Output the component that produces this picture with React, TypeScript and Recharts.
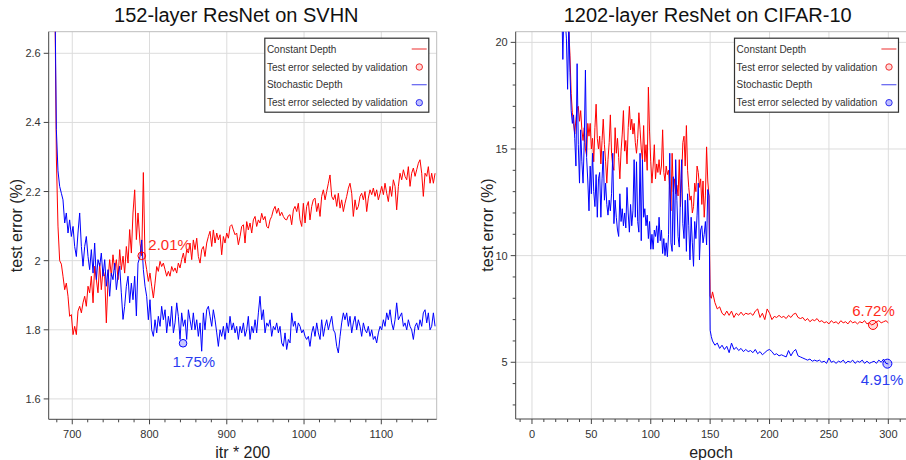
import React from 'react';
import { LineChart, Line, XAxis, YAxis, CartesianGrid, ReferenceDot, ReferenceLine } from 'recharts';

const FONT = '"Liberation Sans", Arial, Helvetica, sans-serif';

// ---------- 152-layer ResNet on SVHN ----------
const svhnItr = [
  677.0,
  679.4, 681.5, 683.7, 685.9, 688.0, 690.2, 692.3, 694.5, 696.6, 698.8,
  701.0, 703.1, 705.3, 707.4, 709.6, 711.8, 713.9, 716.1, 718.2, 720.4,
  722.5, 724.7, 726.9, 729.0, 731.2, 733.3, 735.5, 737.6, 739.8, 742.0,
  744.1, 746.3, 748.4, 750.6, 752.7, 754.9, 757.1, 759.2, 761.4, 763.5,
  765.7, 767.8, 770.0, 772.2, 774.3, 776.5, 778.6, 780.8, 783.0, 785.1,
  787.7, 789.9, 792.0, 794.2, 796.3, 798.5, 800.6, 802.8, 805.0, 807.1,
  809.3, 811.4, 813.6, 815.7, 817.9, 820.1, 822.2, 824.4, 826.5, 828.7,
  830.9, 833.0, 835.2, 837.3, 839.5, 841.6, 843.8, 846.0, 848.1, 850.3,
  852.4, 854.6, 856.7, 858.9, 861.1, 863.2, 865.4, 867.5, 869.7, 871.8,
  874.0, 876.2, 878.3, 880.5, 882.6, 884.8, 887.0, 889.1, 891.3, 893.4,
  895.6, 897.7, 899.9, 902.1, 904.2, 906.4, 908.5, 910.7, 912.8, 915.0,
  917.2, 919.3, 921.5, 923.6, 925.8, 927.9, 930.1, 932.3, 934.4, 936.6,
  938.7, 940.9, 943.0, 945.2, 947.4, 949.5, 951.7, 953.8, 956.0, 958.1,
  960.3, 962.5, 964.6, 966.8, 968.9, 971.1, 973.2, 975.4, 977.5, 979.7,
  981.9,
  984.0, 986.2, 988.3, 990.5, 992.6, 994.8, 997.0, 999.1, 1001.3, 1003.4,
  1005.6, 1007.7, 1009.9, 1012.0, 1014.2, 1016.4, 1018.5, 1020.7, 1022.8, 1025.0,
  1027.2, 1029.3, 1031.5, 1033.6, 1035.8, 1038.0, 1040.1, 1042.3, 1044.4, 1046.6,
  1048.7, 1050.9, 1053.0, 1055.2, 1057.4, 1059.5, 1061.7, 1063.8, 1066.0, 1068.1,
  1070.3, 1072.5, 1074.6, 1076.8, 1078.9, 1081.1, 1083.2, 1085.4, 1087.6, 1089.7,
  1091.9, 1094.0, 1096.2, 1098.4, 1100.5, 1102.7, 1104.8, 1107.0, 1109.1, 1111.3,
  1113.4, 1115.6, 1117.8, 1119.9, 1122.1, 1124.2, 1126.4, 1128.6, 1130.7, 1132.9,
  1135.0, 1137.2, 1139.3, 1141.5, 1143.7, 1145.8, 1148.0, 1150.1, 1152.3, 1154.4,
  1156.6, 1158.8, 1160.9, 1163.1, 1165.2, 1167.4, 1169.6,
];

const svhnConstant = [
  2.9,
  2.30, 2.10, 2.00, 1.99, 1.955, 1.916, 1.935, 1.897, 1.839, 1.844,
  1.786, 1.81, 1.786, 1.854, 1.868, 1.849, 1.878, 1.897, 1.868, 1.926,
  1.907, 1.955, 1.878, 1.984, 1.945, 1.907, 1.993, 1.916, 1.974, 1.955,
  1.82, 1.945, 2.003, 1.955, 2.017, 1.974, 2.003, 1.945, 2.032, 1.974,
  2.013, 1.964, 2.041, 1.993, 2.09, 2.022, 2.138, 2.205, 2.061, 2.138,
  2.05, 2.014, 2.255, 2.003, 1.974, 1.94, 1.964, 1.926, 1.892, 1.935,
  1.983, 1.969, 1.998, 1.983, 1.993, 1.974, 1.955, 1.969, 1.955, 1.983,
  1.969, 1.979, 1.964, 1.993, 1.979, 2.003, 2.022, 1.993, 2.032, 2.022,
  2.051, 2.003, 2.06, 2.032, 2.065, 2.012, 1.993, 2.032, 2.041, 2.012,
  2.051, 2.07, 2.085, 2.041, 2.089, 2.051, 2.08, 2.06, 2.075, 2.017,
  2.07, 2.051, 2.08, 2.065, 2.099, 2.104, 2.089, 2.075, 2.08, 2.046,
  2.07, 2.099, 2.104, 2.051, 2.113, 2.089, 2.109, 2.08, 2.118, 2.128,
  2.099, 2.118, 2.109, 2.137, 2.118, 2.128, 2.099, 2.094, 2.118, 2.128,
  2.147, 2.157, 2.137, 2.152, 2.13, 2.14, 2.128, 2.12, 2.118, 2.13,
  2.133,
  2.104, 2.147, 2.157, 2.142, 2.166, 2.118, 2.099, 2.166, 2.109, 2.157,
  2.171, 2.118, 2.157, 2.176, 2.181, 2.142, 2.166, 2.128, 2.186, 2.205,
  2.176, 2.2, 2.224, 2.248, 2.186, 2.176, 2.191, 2.157, 2.195, 2.152,
  2.176, 2.142, 2.166, 2.186, 2.21, 2.224, 2.195, 2.128, 2.176, 2.147,
  2.157, 2.186, 2.195, 2.176, 2.2, 2.142, 2.181, 2.205, 2.191, 2.21,
  2.186, 2.205, 2.176, 2.195, 2.215, 2.191, 2.224, 2.195, 2.171, 2.215,
  2.186, 2.234, 2.215, 2.147, 2.215, 2.253, 2.234, 2.263, 2.244, 2.234,
  2.272, 2.215, 2.253, 2.268, 2.244, 2.263, 2.282, 2.292, 2.253, 2.186,
  2.253, 2.244, 2.272, 2.224, 2.253, 2.224, 2.253,
];

const svhnStochastic = [
  2.9,
  2.38, 2.26, 2.215, 2.195, 2.176, 2.109, 2.138, 2.08, 2.118, 2.07,
  2.099, 2.041, 2.012, 2.08, 2.138, 2.041, 1.984, 2.041, 2.07, 2.012,
  1.974, 2.032, 1.964, 2.051, 1.945, 2.003, 1.984, 2.022, 1.955, 2.003,
  1.926, 1.974, 1.897, 1.964, 1.945, 1.993, 1.916, 1.955, 1.984, 1.907,
  1.83, 1.868, 1.926, 1.955, 1.878, 1.935, 1.887, 1.955, 1.84, 1.993,
  2.012, 2.06, 1.974, 1.926, 1.897, 1.829, 1.887, 1.8, 1.781, 1.829,
  1.791, 1.839, 1.81, 1.868, 1.829, 1.858, 1.791, 1.839, 1.81, 1.868,
  1.791, 1.82, 1.878, 1.839, 1.772, 1.849, 1.81, 1.829, 1.772, 1.858,
  1.829, 1.8, 1.849, 1.8, 1.829, 1.781, 1.82, 1.738, 1.849, 1.8,
  1.858, 1.868, 1.839, 1.81, 1.858, 1.829, 1.791, 1.752, 1.8, 1.781,
  1.81, 1.772, 1.82, 1.791, 1.839, 1.8, 1.82, 1.791, 1.81, 1.772,
  1.81, 1.791, 1.82, 1.781, 1.8, 1.839, 1.772, 1.81, 1.791, 1.829,
  1.791, 1.849, 1.897, 1.829, 1.858, 1.791, 1.82, 1.81, 1.829, 1.781,
  1.81, 1.8, 1.82, 1.791, 1.81, 1.762, 1.752, 1.791, 1.743, 1.772,
  1.762,
  1.849, 1.81, 1.825, 1.791, 1.82, 1.81, 1.791, 1.8, 1.781, 1.772,
  1.781, 1.752, 1.791, 1.81, 1.781, 1.82, 1.791, 1.772, 1.829, 1.781,
  1.81, 1.829, 1.8, 1.82, 1.839, 1.8, 1.791, 1.752, 1.733, 1.781,
  1.82, 1.849, 1.829, 1.849, 1.81, 1.839, 1.791, 1.82, 1.839, 1.8,
  1.829, 1.81, 1.781, 1.82, 1.8, 1.791, 1.81, 1.781, 1.8, 1.772,
  1.781, 1.762, 1.791, 1.81, 1.8, 1.829, 1.81, 1.849, 1.829, 1.858,
  1.82, 1.8, 1.829, 1.878, 1.829, 1.839, 1.849, 1.81, 1.82, 1.8,
  1.829, 1.81, 1.8, 1.772, 1.81, 1.82, 1.8, 1.829, 1.81, 1.849,
  1.858, 1.82, 1.849, 1.8, 1.81, 1.849, 1.81,
];

const svhnXDomain = [669.5, 1171.7];
const svhnYDomain = [1.541, 2.6625];
const svhnXTicks = [680, 700, 720, 740, 760, 780, 800, 820, 840, 860, 880, 900, 920, 940, 960, 980, 1000, 1020, 1040, 1060, 1080, 1100, 1120, 1140, 1160];
const svhnXMajor = [700, 800, 900, 1000, 1100];
const svhnYTicks = [1.6, 1.8, 2, 2.2, 2.4, 2.6];
const svhnBestConstant = { x: 789.9, y: 2.014, text: '2.01%' };
const svhnBestStochastic = { x: 843.4, y: 1.761, text: '1.75%' };

// ---------- 1202-layer ResNet on CIFAR-10 ----------
const cifarEpoch = [
  24, 25, 26, 27, 28, 29, 30, 31, 32, 33,
  34, 35, 36, 37, 38, 39, 40, 41, 42, 43,
  44, 45, 46, 47, 48, 49, 50, 51, 52, 53,
  54, 55, 56, 57, 58, 59, 60, 61, 62, 63,
  64, 65, 66, 67, 68, 69, 70, 71, 72, 73,
  74, 75, 76, 77, 78, 79, 80, 81, 82, 83,
  84, 85, 86, 87, 88, 89, 90, 91, 92, 93,
  94, 95, 96, 97, 98, 99, 100, 101, 102, 103,
  104, 105, 106, 107, 108, 109, 110, 111, 112, 113,
  114, 115, 116, 117, 118, 119, 120, 121, 122, 123,
  124, 125, 126, 127, 128, 129, 130, 131, 132, 133,
  134, 135, 136, 137, 138, 139, 140, 141, 142, 143,
  144, 145, 146, 147, 148, 149, 150, 151, 152,
  154, 156, 158, 160, 162, 164, 166, 168, 170, 172,
  174, 176, 178, 180, 182, 184, 186, 188, 190, 192,
  194, 196, 198, 200, 202, 204, 206, 208, 210, 212,
  214, 216, 218, 220, 222, 224, 226, 228, 230, 232,
  234, 236, 238, 240, 242, 244, 246, 248, 250, 252,
  254, 256, 258, 260, 262, 264, 266, 268, 270, 272,
  274, 276, 278, 280, 282, 284, 286, 288, 290, 292,
  294, 296, 298, 300,
];

const cifarConstant = [
  27, 26, 25, 24, 23, 22.2, 21.4, 20.6, 19.4, 17.6,
  16.7, 16.2, 15.7, 16.4, 16.9, 17.0, 16.3, 16.8, 15.9, 15.4,
  16.0, 15.0, 14.7, 16.2, 15.6, 16.2, 15.0, 15.5, 14.4, 16.0,
  17.1, 15.5, 15.0, 15.6, 14.3, 15.4, 16.4, 15.2, 14.4, 13.4,
  14.5, 15.3, 16.6, 14.8, 14.2, 14.0, 16.0, 14.8, 15.5, 14.6,
  13.6, 14.9, 15.7, 16.8, 14.9, 15.4, 14.3, 16.0, 17.0, 15.9,
  16.4, 15.7, 16.2, 15.3, 14.8, 15.5, 16.7, 15.9, 15.0, 14.5,
  16.1, 14.4, 15.2, 14.0, 17.9, 15.8, 14.4, 13.4, 14.2, 15.2,
  13.6, 14.3, 13.9, 14.5, 13.8, 14.2, 15.9, 13.9, 13.5, 14.2,
  13.8, 14.0, 13.1, 12.1, 14.8, 13.0, 13.6, 12.9, 13.3, 12.8,
  14.5, 12.3, 13.6, 15.3, 15.6, 14.2, 16.1, 14.0, 13.2, 12.6,
  12.8, 12.0, 12.3, 13.4, 13.0, 14.2, 13.9, 13.2, 13.6, 12.4,
  13.5, 11.8, 12.8, 15.1, 13.5, 12.8, 8.1, 8.0, 8.3,
  7.8, 7.5, 7.6, 7.3, 7.2, 7.4, 7.2, 7.4, 7.1, 7.3,
  7.2, 7.35, 7.2, 7.3, 7.25, 7.3, 7.2, 7.4, 7.5, 7.1,
  7.3, 7.0, 7.5, 7.3, 7.0, 7.15, 7.1, 7.2, 7.1, 7.15,
  7.05, 7.2, 7.1, 7.25, 7.3, 7.1, 7.05, 7.1, 6.95, 7.05,
  6.9, 7.0, 6.95, 7.05, 6.9, 6.95, 6.85, 6.9, 6.8, 6.95,
  6.85, 6.9, 6.8, 6.95, 6.85, 6.9, 6.8, 6.95, 6.85, 6.9,
  6.8, 6.9, 6.85, 6.95, 6.8, 6.85, 6.75, 6.8, 6.9, 6.95,
  6.85, 6.9, 6.95, 6.85,
];

const cifarStochastic = [
  24, 22, 19.2, 22, 21, 20.2, 17.8, 21.0, 18.6, 16.8,
  16.2, 16.6, 15.5, 14.2, 19.0, 15.2, 13.4, 15.9, 14.4, 13.4,
  15.3, 18.7, 14.6, 13.5, 12.1, 14.2, 12.9, 14.8, 13.0, 12.3,
  13.8, 11.8, 13.6, 13.9, 11.8, 13.6, 14.9, 12.6, 13.4, 12.4,
  11.9, 12.6, 12.1, 12.9, 14.8, 11.5, 12.6, 11.8, 11.2, 10.9,
  12.9, 11.6, 12.2, 11.4, 12.0, 11.3, 13.2, 12.0, 11.1, 12.4,
  11.4, 12.1, 14.5, 11.8, 14.4, 11.6, 11.1, 14.8, 10.7, 14.5,
  11.8, 12.2, 11.4, 11.9, 10.8, 11.6, 10.3, 11.0, 10.3, 11.2,
  10.9, 11.4, 10.6, 11.8, 10.7, 11.2, 10.1, 10.8, 10.0, 10.6,
  9.95, 11.0, 14.8, 10.6, 10.2, 13.7, 10.5, 14.5, 12.6, 10.9,
  10.4, 12.9, 14.5, 11.5, 10.8, 12.6, 10.2, 12.9, 11.4, 9.8,
  11.8, 10.6, 9.5, 11.6, 10.8, 11.9, 13.4, 9.8, 11.2, 11.4,
  10.6, 11.0, 11.6, 10.5, 13.1, 12.8, 6.5, 6.2, 6.0,
  5.8, 5.9, 5.65, 5.8, 5.6, 5.75, 5.45, 5.9, 5.6, 5.7,
  5.55, 5.65, 5.5, 5.6, 5.5, 5.55, 5.45, 5.6, 5.4, 5.5,
  5.35, 5.45, 5.55, 5.6, 5.5, 5.35, 5.4, 5.3, 5.35, 5.3,
  5.25, 5.55, 5.3, 5.5, 5.6, 5.3, 5.25, 5.2, 5.15, 5.1,
  5.15, 5.05, 5.1, 5.05, 5.1, 5.0, 5.05, 4.95, 5.2, 5.0,
  5.05, 4.95, 5.05, 5.0, 5.1, 4.95, 5.05, 5.0, 5.1, 4.95,
  5.05, 5.0, 5.1, 4.95, 5.05, 4.95, 5.0, 5.05, 4.95, 5.1,
  5.0, 5.15, 4.95, 4.92,
];

const cifarXDomain = [-13.7, 315.3];
const cifarYDomain = [2.34, 20.5];
const cifarXTicks = [-10, 0, 10, 20, 30, 40, 50, 60, 70, 80, 90, 100, 110, 120, 130, 140, 150, 160, 170, 180, 190, 200, 210, 220, 230, 240, 250, 260, 270, 280, 290, 300, 310];
const cifarXMajor = [0, 50, 100, 150, 200, 250, 300];
const cifarYTicks = [3, 4, 5, 6, 7, 8, 9, 10, 11, 12, 13, 14, 15, 16, 17, 18, 19, 20];
const cifarYMajor = [5, 10, 15, 20];
const cifarBestConstant = { x: 287.1, y: 6.75, text: '6.72%' };
const cifarBestStochastic = { x: 299.2, y: 4.935, text: '4.91%' };

const legendLabels = ['Constant Depth', 'Test error selected by validation', 'Stochastic Depth', 'Test error selected by validation'];

const RED = '#ff0000';
const BLUE = '#0000ff';
const RED_TEXT = '#ff2a1a';
const BLUE_TEXT = '#2a3cf0';

const svhnRows = svhnItr.map((itr, i) => ({ itr, constant: svhnConstant[i], stochastic: svhnStochastic[i] }));
const cifarRows = cifarEpoch.map((epoch, i) => ({ epoch, constant: cifarConstant[i], stochastic: cifarStochastic[i] }));

const XTick = (props: any) => {
  const { x, y, payload, majors } = props;
  const v = payload.value;
  const major = majors.includes(v);
  return (
    <g>
      <line x1={x} x2={x} y1={y} y2={y + (major ? 5 : 3)} stroke="#444" strokeWidth={1} />
      {major && (
        <text x={x} y={y + 19} textAnchor="middle" fontSize={11} fill="#333" fontFamily={FONT}>
          {v}
        </text>
      )}
    </g>
  );
};

const YTick = (props: any) => {
  const { x, y, payload, majors } = props;
  const v = payload.value;
  const major = majors.includes(v);
  return (
    <g>
      <line x1={x - (major ? 5 : 3)} x2={x} y1={y} y2={y} stroke="#444" strokeWidth={1} />
      {major && (
        <text x={x - 8} y={y + 4} textAnchor="end" fontSize={11} fill="#333" fontFamily={FONT}>
          {v}
        </text>
      )}
    </g>
  );
};

const BestMark = (props: any) => {
  const { cx, cy, r, color, fillColor, textColor, text, dx, dy, anchor } = props;
  return (
    <g>
      <circle cx={cx} cy={cy} r={r} fill={fillColor} stroke={color} strokeWidth={1} />
      <text x={cx + dx} y={cy + dy} textAnchor={anchor} fontSize={15} fill={textColor} fontFamily={FONT}>
        {text}
      </text>
    </g>
  );
};

const LegendBox = ({ x, y }: any) => (
  <g transform={`translate(${x},${y})`}>
    <rect x={0.5} y={0.5} width={164} height={74} fill="#fff" stroke="#333" strokeWidth={1.2} />
    {legendLabels.map((t, i) => (
      <text key={i} x={2.6} y={15 + i * 17.9} fontSize={10} fill="#333" fontFamily={FONT}>
        {t}
      </text>
    ))}
    <line x1={147.4} x2={162.4} y1={11.3} y2={11.3} stroke="#f05050" strokeWidth={1.2} />
    <circle cx={155} cy={29.3} r={3.2} fill="rgba(255,0,0,0.15)" stroke="#f03030" strokeWidth={1} />
    <line x1={147.4} x2={162.4} y1={47} y2={47} stroke="#6060f0" strokeWidth={1.2} />
    <circle cx={155} cy={65} r={3.2} fill="rgba(0,0,255,0.25)" stroke="#3030f0" strokeWidth={1} />
  </g>
);

export default function App() {
  return (
    <div style={{ position: 'absolute', left: 0, top: 0, width: 906, height: 460, overflow: 'hidden', background: '#fff' }}>
      <div style={{ position: 'absolute', left: 0, top: 0 }}>
        <LineChart width={453} height={460} data={svhnRows} margin={{ top: 31.7, right: 16.3, bottom: 0, left: 0 }}>
          <CartesianGrid stroke="#dcdcdc" strokeWidth={1} horizontalValues={svhnYTicks} verticalValues={svhnXMajor} />
          <XAxis
            dataKey="itr"
            type="number"
            domain={svhnXDomain}
            allowDataOverflow
            ticks={svhnXTicks}
            interval={0}
            height={40.7}
            tickSize={0}
            tickMargin={0}
            tickLine={false}
            axisLine={{ stroke: '#444', strokeWidth: 1 }}
            tick={(p: any) => <XTick {...p} majors={svhnXMajor} />}
          />
          <YAxis
            type="number"
            domain={svhnYDomain}
            allowDataOverflow
            ticks={svhnYTicks}
            interval={0}
            width={48.7}
            tickSize={0}
            tickMargin={0}
            tickLine={false}
            axisLine={{ stroke: '#444', strokeWidth: 1 }}
            tick={(p: any) => <YTick {...p} majors={svhnYTicks} />}
          />
          <ReferenceLine y={svhnYDomain[1]} stroke="#bdbdbd" strokeWidth={1} />
          <ReferenceLine x={svhnXDomain[1]} stroke="#bdbdbd" strokeWidth={1} />
          <Line type="linear" dataKey="constant" stroke={RED} strokeWidth={1} dot={false} isAnimationActive={false} />
          <Line type="linear" dataKey="stochastic" stroke={BLUE} strokeWidth={1} dot={false} isAnimationActive={false} />
          <ReferenceDot
            x={svhnBestConstant.x}
            y={svhnBestConstant.y}
            r={3.8}
            shape={(p: any) => (
              <BestMark {...p} r={3.8} color={RED} fillColor="rgba(255,0,0,0.12)" textColor={RED_TEXT} text={svhnBestConstant.text} dx={6.6} dy={-6} anchor="start" />
            )}
          />
          <ReferenceDot
            x={svhnBestStochastic.x}
            y={svhnBestStochastic.y}
            r={3.8}
            shape={(p: any) => (
              <BestMark {...p} r={3.8} color={BLUE} fillColor="rgba(0,0,255,0.22)" textColor={BLUE_TEXT} text={svhnBestStochastic.text} dx={10.8} dy={23.5} anchor="middle" />
            )}
          />
        </LineChart>
      </div>
      <div style={{ position: 'absolute', left: 453, top: 0 }}>
        <LineChart width={454} height={460} data={cifarRows} margin={{ top: 31.7, right: 0.5, bottom: 0, left: 0 }}>
          <CartesianGrid stroke="#dcdcdc" strokeWidth={1} horizontalValues={cifarYMajor} verticalValues={cifarXMajor} />
          <XAxis
            dataKey="epoch"
            type="number"
            domain={cifarXDomain}
            allowDataOverflow
            ticks={cifarXTicks}
            interval={0}
            height={41}
            tickSize={0}
            tickMargin={0}
            tickLine={false}
            axisLine={{ stroke: '#444', strokeWidth: 1 }}
            tick={(p: any) => <XTick {...p} majors={cifarXMajor} />}
          />
          <YAxis
            type="number"
            domain={cifarYDomain}
            allowDataOverflow
            ticks={cifarYTicks}
            interval={0}
            width={62.7}
            tickSize={0}
            tickMargin={0}
            tickLine={false}
            axisLine={{ stroke: '#444', strokeWidth: 1 }}
            tick={(p: any) => <YTick {...p} majors={cifarYMajor} />}
          />
          <ReferenceLine y={cifarYDomain[1]} stroke="#bdbdbd" strokeWidth={1} />
          <Line type="linear" dataKey="constant" stroke={RED} strokeWidth={1} dot={false} isAnimationActive={false} />
          <Line type="linear" dataKey="stochastic" stroke={BLUE} strokeWidth={1} dot={false} isAnimationActive={false} />
          <ReferenceDot
            x={cifarBestConstant.x}
            y={cifarBestConstant.y}
            r={4.5}
            shape={(p: any) => (
              <BestMark {...p} r={4.5} color={RED} fillColor="rgba(255,0,0,0.15)" textColor={RED_TEXT} text={cifarBestConstant.text} dx={0.5} dy={-9} anchor="middle" />
            )}
          />
          <ReferenceDot
            x={cifarBestStochastic.x}
            y={cifarBestStochastic.y}
            r={4.5}
            shape={(p: any) => (
              <BestMark {...p} r={4.5} color={BLUE} fillColor="rgba(0,0,255,0.22)" textColor={BLUE_TEXT} text={cifarBestStochastic.text} dx={-5.3} dy={21.3} anchor="middle" />
            )}
          />
        </LineChart>
      </div>
      <svg width={906} height={460} style={{ position: 'absolute', left: 0, top: 0, pointerEvents: 'none' }}>
        <text x={236.3} y={21.7} textAnchor="middle" fontSize={20} fill="#111" fontFamily={FONT}>152-layer ResNet on SVHN</text>
        <text x={707.7} y={21.7} textAnchor="middle" fontSize={20} fill="#111" fontFamily={FONT}>1202-layer ResNet on CIFAR-10</text>
        <text transform="translate(21.7,225.5) rotate(-90)" textAnchor="middle" fontSize={16} fill="#222" fontFamily={FONT}>test error (%)</text>
        <text transform="translate(493,225) rotate(-90)" textAnchor="middle" fontSize={16} fill="#222" fontFamily={FONT}>test error (%)</text>
        <text x={242.7} y={458} textAnchor="middle" fontSize={16} fill="#222" fontFamily={FONT}>itr * 200</text>
        <text x={711} y={457.5} textAnchor="middle" fontSize={16} fill="#222" fontFamily={FONT}>epoch</text>
        <LegendBox x={264.3} y={37.7} />
        <LegendBox x={734} y={37.7} />
      </svg>
    </div>
  );
}
